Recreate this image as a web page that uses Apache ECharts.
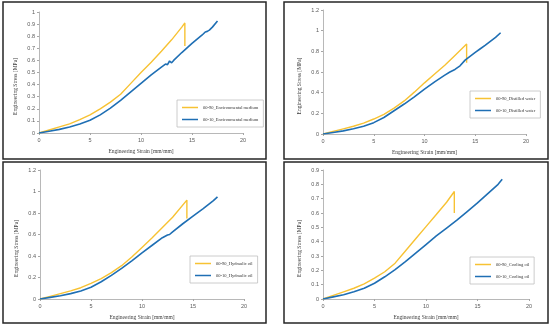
<!DOCTYPE html>
<html><head><meta charset="utf-8">
<script src="https://cdn.jsdelivr.net/npm/echarts@6/dist/echarts.min.js"></script>
<style>html,body{margin:0;padding:0;background:#fff}#c{width:550px;height:326px}</style>
</head><body><div id="c"></div>
<script>
// Tick settings
const xTicks = [0, 5, 10, 15, 20];
const yMax = [1, 1.2, 1.2, 0.9];
const yStep = [0.1, 0.2, 0.2, 0.1];

// Legend names
const names90 = ['00-90_Environmental medium', '00-90_Distilled water', '00-90_Hydraulic oil', '00-90_Cooling oil'];
const names10 = ['00-10_Environmental medium', '00-10_Distilled water', '00-10_Hydraulic oil', '00-10_Cooling oil'];

// Panel 1 - Environmental medium
const p1_90_strain = [0,1,2,3,4,5,6,7,8,9,10,11,12,13,14,14.3,14.3];
const p1_90_stress = [0,0.025,0.05,0.075,0.11,0.15,0.2,0.255,0.32,0.41,0.5,0.585,0.675,0.77,0.875,0.91,0.72];
const p1_10_strain = [0,1,2,3,4,5,6,7,8,9,10,11,12,12.4,12.6,12.8,13,13.2,14,15,16,16.3,16.5,16.7,17,17.5];
const p1_10_stress = [0,0.015,0.03,0.05,0.075,0.105,0.15,0.205,0.27,0.34,0.41,0.48,0.545,0.57,0.565,0.595,0.58,0.6,0.665,0.74,0.81,0.835,0.84,0.85,0.875,0.925];

// Panel 2 - Distilled water
const p2_90_strain = [0,1,2,3,4,5,6,7,8,9,10,11,12,13,14.15,14.15];
const p2_90_stress = [0,0.025,0.05,0.075,0.105,0.145,0.19,0.25,0.32,0.405,0.495,0.58,0.665,0.76,0.87,0.69];
const p2_10_strain = [0,1,2,3,4,5,6,7,8,9,10,11,12,12.5,13,13.5,14,15,15.5,16,17,17.5];
const p2_10_stress = [0,0.015,0.03,0.05,0.075,0.11,0.16,0.225,0.29,0.36,0.435,0.505,0.57,0.6,0.625,0.66,0.715,0.79,0.825,0.86,0.935,0.98];

// Panel 3 - Hydraulic oil
const p3_90_strain = [0,1,2,3,4,5,6,7,8,9,10,11,12,13,14.4,14.4];
const p3_90_stress = [0,0.025,0.05,0.075,0.105,0.145,0.19,0.245,0.31,0.39,0.48,0.57,0.665,0.76,0.92,0.75];
const p3_10_strain = [0,1,2,3,4,5,6,7,8,9,10,11,12,12.5,12.7,13,14,15,16,17,17.4];
const p3_10_stress = [0,0.015,0.03,0.05,0.075,0.11,0.16,0.22,0.285,0.355,0.43,0.5,0.57,0.595,0.6,0.625,0.7,0.77,0.84,0.915,0.95];

// Panel 4 - Cooling oil
const p4_90_strain = [0,1,2,3,4,5,6,7,8,9,10,11,12,12.75,12.75];
const p4_90_stress = [0,0.025,0.05,0.075,0.105,0.145,0.19,0.25,0.335,0.42,0.505,0.59,0.675,0.75,0.6];
const p4_10_strain = [0,1,2,3,4,5,6,7,8,9,10,11,12,13,14,15,16,17,17.4];
const p4_10_stress = [0,0.015,0.03,0.05,0.075,0.11,0.155,0.205,0.26,0.32,0.38,0.44,0.495,0.55,0.61,0.67,0.735,0.8,0.835];

const zip = (a, b) => a.map((v, i) => [v, b[i]]);
const s90 = [zip(p1_90_strain,p1_90_stress), zip(p2_90_strain,p2_90_stress), zip(p3_90_strain,p3_90_stress), zip(p4_90_strain,p4_90_stress)];
const s10 = [zip(p1_10_strain,p1_10_stress), zip(p2_10_strain,p2_10_stress), zip(p3_10_strain,p3_10_stress), zip(p4_10_strain,p4_10_stress)];

const YEL = '#F7C233', BLU = '#1F6FB4';
const grids = [
  {left:39, top:12, width:204, height:121},
  {left:323, top:10, width:203, height:124},
  {left:40, top:170, width:204, height:129},
  {left:323, top:170, width:206, height:129}
];
const legPos = [
  {left:177, top:100}, {left:470, top:91}, {left:190, top:256}, {left:470, top:257}
];
const boxes = [
  {x:3, y:2, w:263, h:157}, {x:284, y:2, w:264, h:157},
  {x:3, y:162, w:263, h:161}, {x:284, y:162, w:264, h:161}
];
const tickLbl = {fontSize:5.5, color:'#595959', fontFamily:'Liberation Sans', margin:4};
const nameStyle = {fontSize:5.5, color:'#404040', fontFamily:'Liberation Serif'};
const axLine = {lineStyle:{color:'#a6a6a6', width:0.8}};

const option = {
  animation:false,
  grid: grids,
  xAxis: grids.map((g,i)=>({
    type:'value', gridIndex:i, min:xTicks[0], max:xTicks[xTicks.length-1], interval:xTicks[1]-xTicks[0],
    splitLine:{show:false}, axisLine:axLine, axisTick:{show:true, length:2, lineStyle:{color:'#a6a6a6'}},
    axisLabel:tickLbl, name:'Engineering Strain [mm/mm]', nameLocation:'middle', nameGap:16, nameTextStyle:nameStyle
  })),
  yAxis: grids.map((g,i)=>({
    type:'value', gridIndex:i, min:0, max:yMax[i], interval:yStep[i],
    splitLine:{show:false}, axisLine:{show:true, lineStyle:{color:'#a6a6a6', width:0.8}},
    axisTick:{show:true, length:2, lineStyle:{color:'#a6a6a6'}},
    axisLabel:tickLbl, name:'Engineering Stress [MPa]', nameLocation:'middle', nameGap:20,
    nameTextStyle:Object.assign({padding:[0,28,0,0]}, nameStyle)
  })),
  legend: legPos.map((p,i)=>({
    left:p.left, top:p.top, orient:'vertical', data:[names90[i], names10[i]],
    icon:'rect', itemWidth:16, itemHeight:1.5, itemGap:7,
    borderColor:'#bfbfbf', borderWidth:0.8, padding:[5,5,5,5],
    textStyle:{fontSize:4.5, color:'#333', fontFamily:'Liberation Serif', padding:[0,0,0,0]}
  })),
  series: [].concat(
    s90.map((d,i)=>({type:'line', name:names90[i], xAxisIndex:i, yAxisIndex:i, data:d, showSymbol:false, symbol:'none', lineStyle:{color:YEL, width:1.4}, itemStyle:{color:YEL}})),
    s10.map((d,i)=>({type:'line', name:names10[i], xAxisIndex:i, yAxisIndex:i, data:d, showSymbol:false, symbol:'none', lineStyle:{color:BLU, width:1.6}, itemStyle:{color:BLU}}))
  ),
  graphic: boxes.map(b=>({type:'rect', shape:{x:b.x, y:b.y, width:b.w, height:b.h}, style:{fill:'none', stroke:'#262626', lineWidth:1.5}, silent:true}))
};
const chart = echarts.init(document.getElementById('c'), null, {renderer:'canvas'});
chart.setOption(option);
</script></body></html>
